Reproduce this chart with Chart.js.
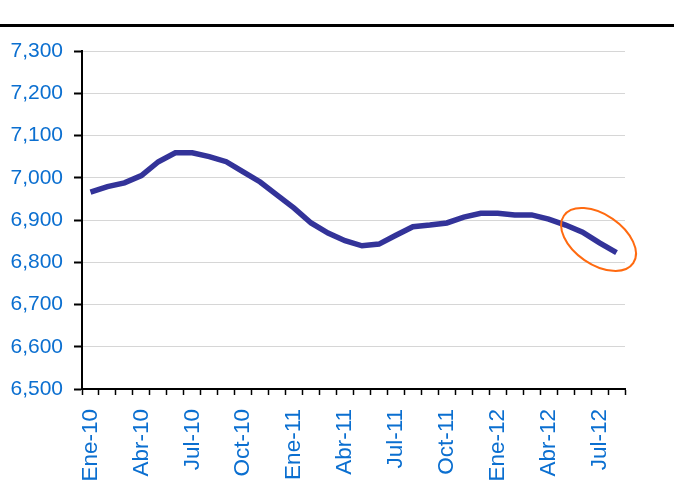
<!DOCTYPE html>
<html>
<head>
<meta charset="utf-8">
<script src="https://cdn.jsdelivr.net/npm/chart.js@4"></script>
<style>
  body { margin: 0; background: #fff; }
</style>
</head>
<body>
<canvas id="chart" width="674" height="486"></canvas>
<script>
// months Ene-10 .. Ago-12
const months = [
  "Ene-10", "Feb-10", "Mar-10", "Abr-10", "May-10", "Jun-10", "Jul-10", "Ago-10", "Sep-10", "Oct-10", "Nov-10", "Dic-10",
  "Ene-11", "Feb-11", "Mar-11", "Abr-11", "May-11", "Jun-11", "Jul-11", "Ago-11", "Sep-11", "Oct-11", "Nov-11", "Dic-11",
  "Ene-12", "Feb-12", "Mar-12", "Abr-12", "May-12", "Jun-12", "Jul-12", "Ago-12"
]

const values = [
  6966, 6979, 6988, 7005, 7038, 7059, 7059, 7050, 7038, 7014, 6990, 6959,
  6928, 6893, 6869, 6851, 6839, 6843, 6864, 6884, 6888, 6893, 6907, 6916,
  6916, 6912, 6912, 6902, 6888, 6871, 6846, 6823
]

// only every third month gets a label
const shownLabels = ["Ene-10", "Abr-10", "Jul-10", "Oct-10", "Ene-11", "Abr-11", "Jul-11", "Oct-11", "Ene-12", "Abr-12", "Jul-12"]

// the circled point at the end of the series
const markMonth = "Jul-12"
const markValue = 6854

const blue = "#0b6fd0"

// draws the black rule on top and the orange ellipse
const extras = {
    id: "extras",
    afterDraw(chart) {
        const ctx = chart.ctx
        ctx.save()
        ctx.fillStyle = "#000"
        ctx.fillRect(0, 24, chart.width, 3)

        const x = chart.scales.x.getPixelForValue(months.indexOf(markMonth))
        const y = chart.scales.y.getPixelForValue(markValue)
        ctx.strokeStyle = "#ff6a10"
        ctx.lineWidth = 2
        ctx.beginPath()
        ctx.ellipse(x - 1, y, 42, 25, 0.6, 0, Math.PI * 2)
        ctx.stroke()
        ctx.restore()
    }
}

const ctx = document.querySelector("#chart")
const myChart = new Chart(ctx, {
    type: "line",
    data: {
        labels: months,
        datasets: [{
            data: values,
            borderColor: "#333399",
            borderWidth: 5.5,
            pointRadius: 0,
            tension: 0,
            fill: false
        }]
    },
    options: {
        responsive: false,
        animation: false,
        layout: { padding: { top: 51, right: 49, left: 0, bottom: 0 } },
        plugins: {
            legend: { display: false },
            tooltip: { enabled: false }
        },
        scales: {
            x: {
                offset: true,
                afterFit: (scale) => { scale.height = 97 },
                border: { color: "#000", width: 2 },
                grid: {
                    offset: true,
                    drawOnChartArea: false,
                    tickColor: "#000",
                    tickLength: 6,
                    tickWidth: 1.5
                },
                ticks: {
                    autoSkip: false,
                    minRotation: 90,
                    maxRotation: 90,
                    padding: 14,
                    color: blue,
                    font: { family: "'Liberation Sans', Arial, sans-serif", size: 22.5 },
                    callback: function(val, i) {
                        const name = months[i]
                        return shownLabels.includes(name) ? name : ""
                    }
                }
            },
            y: {
                min: 6500,
                max: 7300,
                afterFit: (scale) => { scale.width = 82 },
                border: { color: "#000", width: 2 },
                grid: {
                    color: "#d6d6d6",
                    lineWidth: 1,
                    tickColor: "#000",
                    tickLength: 8,
                    tickWidth: 2,
                    tickBorderDash: [],
                    borderDash: [2, 1]
                },
                ticks: {
                    stepSize: 100,
                    padding: 11,
                    color: blue,
                    font: { family: "'Liberation Sans', Arial, sans-serif", size: 21 },
                    callback: (v) => v.toLocaleString("en-US")
                }
            }
        }
    },
    plugins: [extras]
});
</script>
</body>
</html>
